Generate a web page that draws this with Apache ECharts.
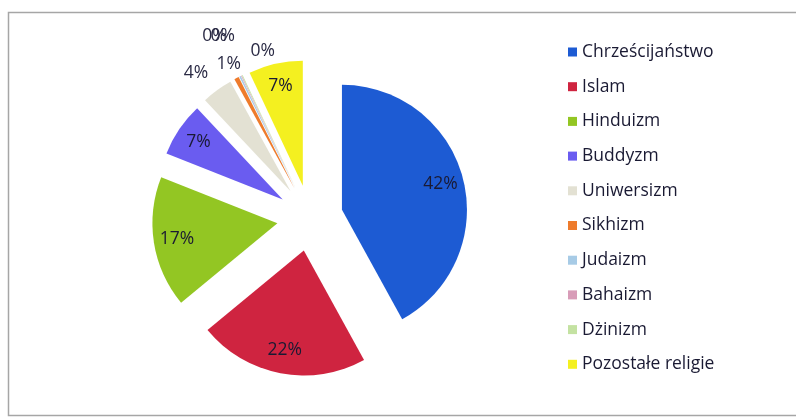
<!DOCTYPE html>
<html>
<head>
<meta charset="utf-8">
<script src="https://cdn.jsdelivr.net/npm/echarts@6/dist/echarts.min.js"></script>
<style>
  html, body { margin: 0; padding: 0; background: #ffffff; }
  #chart { width: 796px; height: 418px; }
</style>
</head>
<body>
<div id="chart"></div>
<script>
// Share of world population by religion (%)
const religions = ['Chrześcijaństwo', 'Islam', 'Hinduizm', 'Buddyzm', 'Uniwersizm',
                   'Sikhizm', 'Judaizm', 'Bahaizm', 'Dżinizm', 'Pozostałe religie'];
const shares = [42, 22, 17, 7, 4, 0.6, 0.2, 0.1, 0.1, 7];

const sliceColors = ['#1d5bd3', '#cf2440', '#93c623', '#6a5cf0', '#e3e1d3',
                     '#ee7b2c', '#a7cbe6', '#d89cb8', '#c4e2a2', '#f4f020'];

// Big slices carry their label inside; the thin ones get it above the pie
const labelInside = [true, true, true, true, false, false, false, false, false, true];
// Manual nudges (px) for the crowded labels of the thin slices
const labelNudge = [[0, 0], [0, 0], [0, 0], [0, 0], [2, -9],
                    [14, -5], [-4, -31], [3, -31], [42, -15], [0, 0]];

const FONT = '"Open Sans", "Noto Sans", sans-serif';
const TEXT = '#1a1a33';
const FS = 17.5;
const pct = p => Math.round(p.percent) + '%';

const chart = echarts.init(document.getElementById('chart'), null, { renderer: 'canvas' });

const PIE_CENTER = [310, 218];
const PIE_RADIUS = 125;
const EXPLODE = 33;

chart.setOption({
  animation: false,
  backgroundColor: '#ffffff',
  graphic: [{
    type: 'rect',
    shape: { x: 8.5, y: 12.5, width: 900, height: 403 },
    style: { fill: 'none', stroke: '#a6a6a6', lineWidth: 1.5 },
    silent: true
  }],
  legend: {
    orient: 'vertical',
    left: 563,
    top: 37.5,
    icon: 'rect',
    itemWidth: 9,
    itemHeight: 9,
    itemGap: 15.7,
    data: religions,
    selectedMode: false,
    textStyle: { fontFamily: FONT, fontSize: FS, color: TEXT, lineHeight: 19 }
  },
  series: [
    {
      // visible slices, all pulled out from the centre
      type: 'pie',
      center: PIE_CENTER,
      radius: PIE_RADIUS,
      startAngle: 90,
      clockwise: true,
      selectedMode: 'multiple',
      selectedOffset: EXPLODE,
      avoidLabelOverlap: false,
      emphasis: { disabled: true },
      label: {
        position: 'outside',
        formatter: pct,
        fontFamily: FONT,
        fontSize: FS,
        color: '#2a2a44',
        distanceToLabelLine: 5
      },
      labelLine: { show: false, length: 10, length2: 0 },
      labelLayout: p => p.seriesIndex === 0
        ? { dx: labelNudge[p.dataIndex][0], dy: labelNudge[p.dataIndex][1] }
        : {},
      data: religions.map((name, i) => ({
        name,
        value: shares[i],
        selected: true,
        itemStyle: { color: sliceColors[i] },
        label: { show: !labelInside[i] }
      }))
    },
    {
      // transparent twin with a larger radius: puts the inside labels near the rim
      type: 'pie',
      center: PIE_CENTER,
      radius: PIE_RADIUS * 1.58,
      startAngle: 90,
      clockwise: true,
      selectedMode: 'multiple',
      selectedOffset: EXPLODE,
      silent: true,
      avoidLabelOverlap: false,
      emphasis: { disabled: true },
      itemStyle: { color: 'rgba(0,0,0,0)' },
      label: {
        position: 'inside',
        formatter: pct,
        fontFamily: FONT,
        fontSize: FS,
        color: TEXT
      },
      labelLine: { show: false },
      data: religions.map((name, i) => ({
        name,
        value: shares[i],
        selected: true,
        label: { show: labelInside[i] }
      }))
    }
  ]
});
</script>
</body>
</html>
